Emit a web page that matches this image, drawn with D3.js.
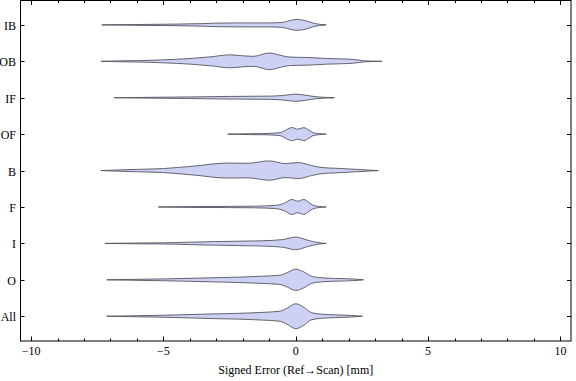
<!DOCTYPE html>
<html>
<head>
<meta charset="utf-8">
<script src="https://cdn.jsdelivr.net/npm/d3@7"></script>
<style>
  body { margin: 0; background: #fff; }
  text { font-family: "Liberation Serif", "DejaVu Serif", serif; fill: #000; }
</style>
</head>
<body>
<svg id="chart" width="576" height="381"></svg>
<script>
// categories, top to bottom
const categories = ["IB", "OB", "IF", "OF", "B", "F", "I", "O", "All"];
const xTicks = [-10, -5, 0, 5, 10];
const xLabel = "Signed Error (Ref\u2192Scan) [mm]";

// violin profiles: [signed error (mm), relative density]
const profIB = [[-7.33, 0], [-6, 0.4], [-4.5, 0.8], [-3.5, 1.3], [-3, 1.8], [-2, 2.0], [-1, 2.0],
  [-0.5, 2.5], [-0.2, 4.5], [0.05, 5.5], [0.4, 4], [0.7, 1.5], [0.9, 0.6], [1.15, 0]];
const profOB = [[-7.36, 0], [-6.5, 0.5], [-5.5, 1.0], [-5, 1.5], [-4, 2.8], [-3.2, 4.5], [-2.5, 6.5],
  [-2.0, 5.5], [-1.6, 5.0], [-1.0, 8.3], [-0.5, 5.5], [-0.2, 4.2], [0.5, 3.8], [1.2, 2.8],
  [2.0, 2.2], [2.4, 1.2], [2.6, 0.5], [3.25, 0]];
const profIF = [[-6.86, 0], [-5.5, 0.4], [-4, 0.8], [-2.5, 1.3], [-1.0, 1.6], [-0.5, 2.2], [0, 3.6],
  [0.4, 2.4], [0.8, 0.9], [1.1, 0.4], [1.46, 0]];
const profOF = [[-2.57, 0], [-1.8, 0.4], [-1.2, 0.6], [-0.8, 1.0], [-0.55, 1.8], [-0.35, 4.5],
  [-0.15, 6.6], [0.08, 5.0], [0.3, 6.5], [0.5, 4.0], [0.65, 1.5], [0.85, 0.6], [1.15, 0]];
const profB = [[-7.36, 0], [-6.3, 1.0], [-5, 2.0], [-3.8, 4.6], [-2.6, 7.5], [-1.8, 7.3], [-1.0, 9.7],
  [-0.4, 7.0], [0.1, 8.0], [0.6, 5.0], [1.0, 3.0], [1.5, 2.3], [2.3, 1.2], [2.7, 0.6], [3.12, 0]];
const profF = [[-5.19, 0], [-4, 0.4], [-2.5, 0.6], [-1.6, 0.8], [-0.8, 1.5], [-0.45, 3.5],
  [-0.15, 7.5], [0.08, 5.8], [0.3, 7.5], [0.5, 4.5], [0.65, 1.8], [0.85, 0.7], [1.15, 0]];
const profI = [[-7.21, 0], [-6, 0.4], [-5, 0.6], [-4, 1.2], [-3.2, 1.7], [-2, 2.3], [-1.2, 2.7],
  [-0.5, 3.8], [0, 6.3], [0.45, 3.2], [0.8, 1.0], [1.15, 0]];
const profO = [[-7.14, 0], [-6, 0.5], [-5, 0.9], [-4, 1.5], [-3.2, 2.0], [-2, 2.8], [-1.3, 3.6],
  [-0.6, 4.6], [-0.3, 7.5], [0, 10.7], [0.3, 8], [0.6, 3.6], [1.0, 2.0], [1.5, 1.4], [2.2, 0.8], [2.56, 0]];
const profAll = [[-7.14, 0], [-6, 0.5], [-5, 1.0], [-4, 1.7], [-3.2, 2.3], [-2.3, 2.8], [-1.3, 3.8],
  [-0.6, 5.0], [-0.3, 8.5], [0, 12.5], [0.3, 9], [0.6, 3.5], [1.0, 2.0], [1.5, 1.4], [2.1, 0.8], [2.52, 0]];

const profiles = [profIB, profOB, profIF, profOF, profB, profF, profI, profO, profAll];

const svg = d3.select("#chart");
const mLeft = 20.5, mRight = 571, mTop = 0.5, mBottom = 341;

const x = d3.scaleLinear().domain([-10.4, 10.4]).range([mLeft, mRight]);
// category index: All = 1 ... IB = 9
const y = d3.scaleLinear().domain([0.32, 9.67]).range([mBottom, mTop]);
const yPos = (i) => y(categories.length - i);
const step = y(1) - y(2);
const w = d3.scaleLinear().domain([0, 12.5]).range([0, step * 0.343]);

// violins
profiles.forEach((prof, i) => {
  const cy = yPos(i);
  const area = d3.area()
    .x((d) => x(d[0]))
    .y0((d) => cy + w(d[1]))
    .y1((d) => cy - w(d[1]))
    .curve(d3.curveMonotoneX);
  svg.append("path")
    .datum(prof)
    .attr("d", area)
    .attr("fill", "#cdd1f3")
    .attr("stroke", "#55555f")
    .attr("stroke-width", 0.9)
    .attr("stroke-linejoin", "round");
});

// frame
svg.append("rect")
  .attr("x", mLeft).attr("y", mTop)
  .attr("width", mRight - mLeft).attr("height", mBottom - mTop)
  .attr("fill", "none").attr("stroke", "#000").attr("stroke-width", 1);

// x ticks (major every 5, minor every 1), on bottom and top, pointing inward
const minor = d3.range(-10, 11, 1);
const ticks = svg.append("g").attr("stroke", "#000").attr("stroke-width", 1);
minor.forEach((v) => {
  const len = v % 5 === 0 ? 4.5 : 2.5;
  const px = Math.round(x(v)) + 0.5;
  ticks.append("line").attr("x1", px).attr("x2", px).attr("y1", mBottom).attr("y2", mBottom - len);
  ticks.append("line").attr("x1", px).attr("x2", px).attr("y1", mTop).attr("y2", mTop + len);
});

// y ticks on both sides
categories.forEach((c, i) => {
  const py = Math.round(yPos(i)) + 0.5;
  ticks.append("line").attr("x1", mLeft).attr("x2", mLeft + 4).attr("y1", py).attr("y2", py);
  ticks.append("line").attr("x1", mRight).attr("x2", mRight - 4).attr("y1", py).attr("y2", py);
  svg.append("text")
    .attr("x", 16).attr("y", py + 4)
    .attr("text-anchor", "end")
    .attr("font-size", 12)
    .text(c);
});

// x tick labels
xTicks.forEach((v) => {
  svg.append("text")
    .attr("x", x(v)).attr("y", 355)
    .attr("text-anchor", "middle")
    .attr("font-size", 12)
    .text(v < 0 ? "\u2212" + Math.abs(v) : v);
});

svg.append("text")
  .attr("x", x(0)).attr("y", 374)
  .attr("text-anchor", "middle")
  .attr("font-size", 12)
  .text(xLabel);
</script>
</body>
</html>
